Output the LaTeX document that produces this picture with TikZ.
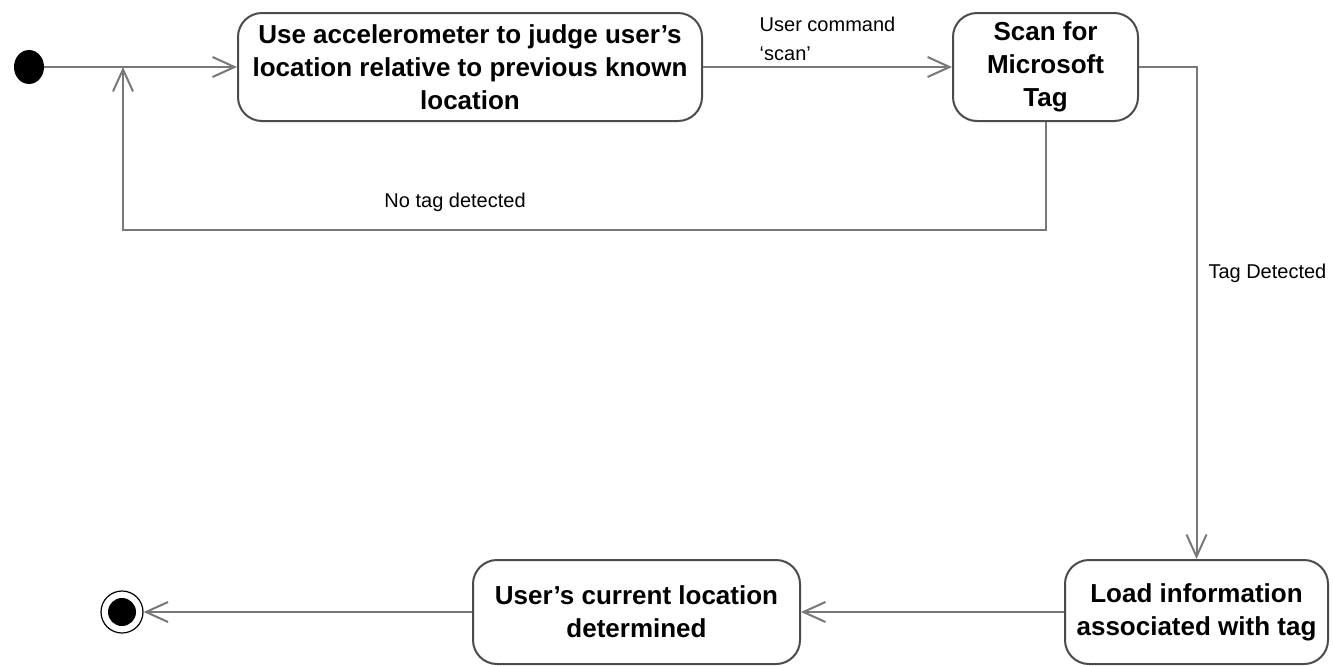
\documentclass[tikz,border=0pt]{standalone}
\usepackage{fontspec}
\setmainfont{Liberation Sans}
\usetikzlibrary{arrows.meta, positioning, shapes.geometric}
\definecolor{EdgeGrey}{RGB}{120,120,120}
\definecolor{BoxGrey}{RGB}{75,75,75}

\begin{document}
\begin{tikzpicture}[x=0.5pt, y=-0.5pt,
    state/.style={draw=BoxGrey, line width=1pt, rounded corners=12pt, align=center,
      font=\fontsize{13}{16.5}\selectfont\bfseries, inner sep=0pt},
    trans/.style={draw=EdgeGrey, line width=1pt, -{Straight Barb[length=11pt, width=10pt]}},
    lbl/.style={font=\fontsize{10}{14.5}\selectfont, inner sep=0pt}]
  \useasboundingbox (0,0) rectangle (1333,665);
  % states
  \node[ellipse, fill=black, minimum width=15pt, minimum height=17pt, inner sep=0pt] (init) at (29,67) {};
  \node[state, minimum width=232pt, minimum height=54pt] (judge) at (470,67)
    {Use accelerometer to judge user's\\location relative to previous known\\location};
  \node[state, minimum width=92.5pt, minimum height=54pt] (scan) at (1045.5,67) {Scan for\\Microsoft\\Tag};
  \node[state, minimum width=131.5pt, minimum height=52pt] (load) at (1196.5,612)
    {Load information\\associated with tag};
  \node[state, minimum width=163.5pt, minimum height=52pt] (done) at (636.5,612)
    {User's current location\\determined};
  \node[circle, draw=black, line width=0.6pt, minimum size=21pt, inner sep=0pt] (final) at (122,612) {};
  \fill (final.center) circle[radius=7pt];
  \coordinate (join) at (123,67);
  \coordinate (loopturn) at (123,230);
  % transitions
  \draw[trans] (init) -- (judge);
  \draw[trans] (judge) -- node[lbl, midway, above=2.5pt, align=left] {User command\\`scan'} (scan);
  \draw[trans] (scan.east) -| node[lbl, pos=0.71, right=5.5pt] {Tag Detected} (load.north);
  \draw[trans] (scan.south) |- node[lbl, pos=0.82, above=8.5pt] {No tag detected} (loopturn) -- (join);
  \draw[trans] (load) -- (done);
  \draw[trans] (done) -- (final);
\end{tikzpicture}
\end{document}
